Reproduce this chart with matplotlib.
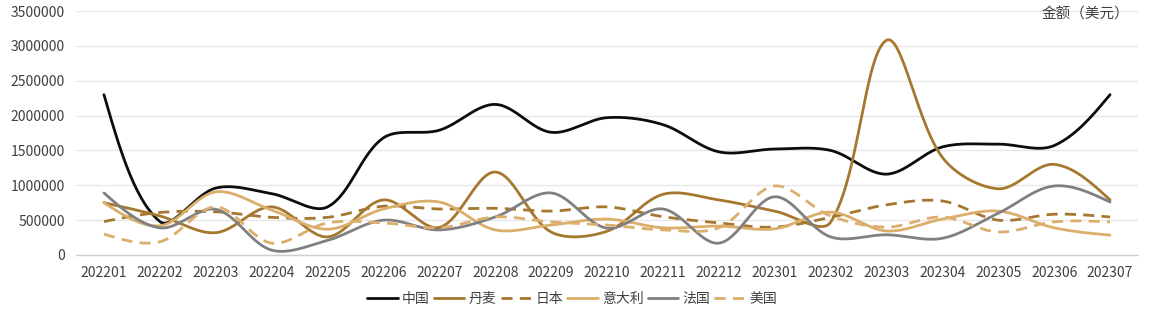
import numpy as np
import matplotlib
matplotlib.use("Agg")
import matplotlib.pyplot as plt
from matplotlib.ticker import FuncFormatter

plt.rcParams['font.family'] = ['Noto Sans CJK SC', 'DejaVu Sans']

months = ["202201", "202202", "202203", "202204", "202205", "202206", "202207",
          "202208", "202209", "202210", "202211", "202212", "202301", "202302",
          "202303", "202304", "202305", "202306", "202307"]

china = [2300000, 480000, 960000, 880000, 690000, 1680000, 1790000, 2160000, 1760000,
         1970000, 1870000, 1480000, 1520000, 1500000, 1160000, 1550000, 1590000, 1570000, 2300000]
denmark = [750000, 560000, 320000, 690000, 260000, 790000, 395000, 1190000, 330000,
           340000, 870000, 790000, 630000, 470000, 3080000, 1400000, 950000, 1300000, 790000]
japan = [480000, 610000, 620000, 540000, 540000, 700000, 660000, 670000, 630000,
         690000, 550000, 460000, 400000, 540000, 720000, 775000, 500000, 585000, 545000]
italy = [750000, 420000, 905000, 645000, 370000, 660000, 760000, 360000, 430000,
         515000, 390000, 415000, 375000, 615000, 345000, 515000, 630000, 390000, 285000]
france = [890000, 390000, 655000, 70000, 210000, 500000, 360000, 545000, 890000,
          385000, 660000, 170000, 835000, 260000, 290000, 240000, 600000, 990000, 760000]
usa = [300000, 190000, 690000, 170000, 460000, 460000, 390000, 545000, 475000,
       430000, 360000, 390000, 990000, 560000, 400000, 545000, 330000, 475000, 475000]

names = ["中国", "丹麦", "日本", "意大利", "法国", "美国"]
series = [china, denmark, japan, italy, france, usa]
colors = ["#0D0D0D", "#A6772F", "#A6772F", "#DBAE6B", "#808080", "#DBAE6B"]
dashed = [False, False, True, False, False, True]

# pixel size of one category step and of one unit on the value axis
SX = 55.6
SY = 244 / 3500000


def smooth(xs, ys, n=30):
    # bezier smoothing; handle lengths follow neighbouring segment lengths on screen
    px_ = np.asarray(xs, float) * SX
    py_ = np.asarray(ys, float) * SY
    m = len(px_)
    seg = np.hypot(np.diff(px_), np.diff(py_))
    cin = np.zeros((m, 2))
    cout = np.zeros((m, 2))
    for i in range(m):
        p = np.array([px_[i], py_[i]])
        if i == 0 or i == m - 1:
            cin[i] = cout[i] = p
            continue
        d = np.array([px_[i + 1] - px_[i - 1], py_[i + 1] - py_[i - 1]])
        tot = seg[i - 1] + seg[i]
        cin[i] = p - d * (seg[i - 1] / tot) / 3
        cout[i] = p + d * (seg[i] / tot) / 3
    # end points lean toward their neighbour's handle
    cout[0] = np.array([px_[0], py_[0]]) + (cin[1] - np.array([px_[0], py_[0]])) / 2
    cin[-1] = np.array([px_[-1], py_[-1]]) + (cout[-2] - np.array([px_[-1], py_[-1]])) / 2
    out_x, out_y = [], []
    for i in range(m - 1):
        t = np.linspace(0, 1, n, endpoint=(i == m - 2))[:, None]
        p0 = np.array([px_[i], py_[i]])
        p3 = np.array([px_[i + 1], py_[i + 1]])
        pts = ((1 - t) ** 3) * p0 + 3 * ((1 - t) ** 2) * t * cout[i] \
            + 3 * (1 - t) * t ** 2 * cin[i + 1] + t ** 3 * p3
        out_x.append(pts[:, 0] / SX)
        out_y.append(pts[:, 1] / SY)
    return np.concatenate(out_x), np.concatenate(out_y)


fig = plt.figure(figsize=(11.55, 3.28), dpi=100)
ax = fig.add_axes([76 / 1155, 1 - 255 / 328, (1138 - 76) / 1155, (255 - 11) / 328])

x = np.arange(len(months))
for name, ys, col, ds in zip(names, series, colors, dashed):
    sx, sy = smooth(x, ys)
    if ds:
        ax.plot(sx, sy, color=col, lw=2.0, label=name, dashes=(4, 2.6), solid_capstyle='butt')
    else:
        ax.plot(sx, sy, color=col, lw=2.0, label=name, solid_capstyle='round')

ax.set_xlim(-0.5, len(months) - 0.5)
ax.set_ylim(0, 3500000)
ax.set_yticks(np.arange(0, 3500001, 500000))
ax.yaxis.set_major_formatter(FuncFormatter(lambda v, p: f"{int(v)}"))
ax.set_xticks(x)
ax.set_xticklabels(months)
ax.tick_params(axis='both', length=0, labelsize=10, colors="#404040")
ax.tick_params(axis='x', pad=8)
ax.tick_params(axis='y', pad=8)
ax.grid(axis='y', color="#E6E6E6", lw=0.9)
ax.set_axisbelow(True)
for s in ["top", "right", "left"]:
    ax.spines[s].set_visible(False)
ax.spines["bottom"].set_color("#D0D0D0")
ax.spines["bottom"].set_linewidth(1.0)

fig.text(1129 / 1155, 1 - 14 / 328, "金额（美元）", ha='right', va='center',
         fontsize=10.5, color="#404040")

handles, labels = ax.get_legend_handles_labels()
fig.legend(handles, labels, loc='center', bbox_to_anchor=(572 / 1155, 1 - 299 / 328),
           ncol=6, frameon=False, fontsize=10, handlelength=2.2, handletextpad=0.3,
           columnspacing=0.3, labelcolor="#404040")

fig.savefig("out.png", dpi=100)
